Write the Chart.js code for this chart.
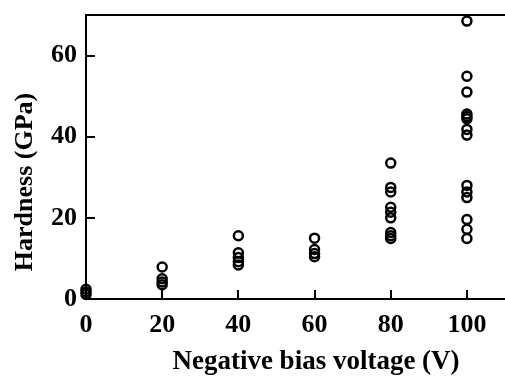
<!DOCTYPE html>
<html>
<head>
<meta charset="utf-8">
<script src="https://cdn.jsdelivr.net/npm/chart.js@4"></script>
<style>
  html, body { margin: 0; padding: 0; background: #fff; }
  #wrap { width: 505px; height: 380px; }
</style>
</head>
<body>
<div id="wrap"><canvas id="hardnessChart" width="505" height="380"></canvas></div>
<script>
// --- Data ---
const biasVoltages = [0, 20, 40, 60, 80, 100];
const hardnessAt0 = [2.4, 1.7, 1.1];
const hardnessAt20 = [7.9, 5.0, 4.2, 3.5];
const hardnessAt40 = [15.6, 11.4, 10.2, 9.2, 8.4];
const hardnessAt60 = [15.0, 12.2, 11.2, 10.4];
const hardnessAt80 = [33.5, 27.5, 26.4, 22.6, 21.4, 20.0, 16.4, 15.6, 14.9];
const hardnessAt100 = [68.5, 54.9, 51.0, 45.6, 45.0, 44.4, 41.8, 40.4, 28.0, 26.4, 25.0, 19.6, 17.2, 14.9];
const hardnessGroups = [hardnessAt0, hardnessAt20, hardnessAt40, hardnessAt60, hardnessAt80, hardnessAt100];

const xTickValues = [0, 20, 40, 60, 80, 100];
const yTickValues = [0, 20, 40, 60];

const FONT = "'Liberation Serif', 'Times New Roman', serif";

const points = biasVoltages.flatMap((v, i) => hardnessGroups[i].map(h => ({ x: v, y: h })));

// inward tick marks, top frame line and axis titles
const framePlugin = {
  id: 'frame',
  afterDraw(chart) {
    const ctx = chart.ctx;
    const area = chart.chartArea;
    const xs = chart.scales.x, ys = chart.scales.y;
    ctx.save();
    ctx.strokeStyle = '#000';
    ctx.lineWidth = 2;
    ctx.beginPath();
    ctx.moveTo(area.left - 1, area.top);
    ctx.lineTo(chart.width, area.top);
    xTickValues.forEach(v => {
      if (v === 0) return;
      const px = Math.round(xs.getPixelForValue(v));
      ctx.moveTo(px, area.bottom);
      ctx.lineTo(px, area.bottom - 9);
    });
    yTickValues.forEach(v => {
      if (v === 0) return;
      const py = Math.round(ys.getPixelForValue(v));
      ctx.moveTo(area.left, py);
      ctx.lineTo(area.left + 9, py);
    });
    ctx.stroke();

    ctx.fillStyle = '#000';
    ctx.textAlign = 'center';
    ctx.textBaseline = 'middle';
    ctx.font = 'bold 27px ' + FONT;
    ctx.fillText('Negative bias voltage (V)', 316, 362);
    ctx.font = 'bold 26px ' + FONT;
    ctx.translate(25, 182);
    ctx.rotate(-Math.PI / 2);
    ctx.fillText('Hardness (GPa)', 0, 0);
    ctx.restore();
  }
};

new Chart(document.getElementById('hardnessChart'), {
  type: 'scatter',
  data: {
    datasets: [{
      data: points,
      pointStyle: 'circle',
      pointRadius: 4.5,
      pointBorderWidth: 2.5,
      borderColor: '#000',
      backgroundColor: 'rgba(0,0,0,0)',
      clip: false
    }]
  },
  options: {
    responsive: false,
    animation: false,
    layout: { autoPadding: false, padding: { top: 15, right: 0, left: 0, bottom: 0 } },
    plugins: {
      legend: { display: false },
      tooltip: { enabled: false }
    },
    scales: {
      x: {
        type: 'linear',
        min: 0,
        max: 110,
        afterBuildTicks: s => { s.ticks = xTickValues.map(v => ({ value: v })); },
        afterFit: s => { s.height = 81; s.paddingLeft = 0; s.paddingRight = 0; },
        grid: { display: false, drawTicks: false },
        border: { display: true, color: '#000', width: 2 },
        ticks: {
          color: '#000',
          padding: 11,
          maxRotation: 0,
          font: { family: FONT, size: 26, weight: 'bold' }
        }
      },
      y: {
        type: 'linear',
        min: 0,
        max: 70,
        afterBuildTicks: s => { s.ticks = yTickValues.map(v => ({ value: v })); },
        afterFit: s => { s.width = 86; s.paddingTop = 0; s.paddingBottom = 0; },
        grid: { display: false, drawTicks: false },
        border: { display: true, color: '#000', width: 2 },
        ticks: {
          color: '#000',
          padding: 9,
          font: { family: FONT, size: 26, weight: 'bold' }
        }
      }
    }
  },
  plugins: [framePlugin]
});
</script>
</body>
</html>
